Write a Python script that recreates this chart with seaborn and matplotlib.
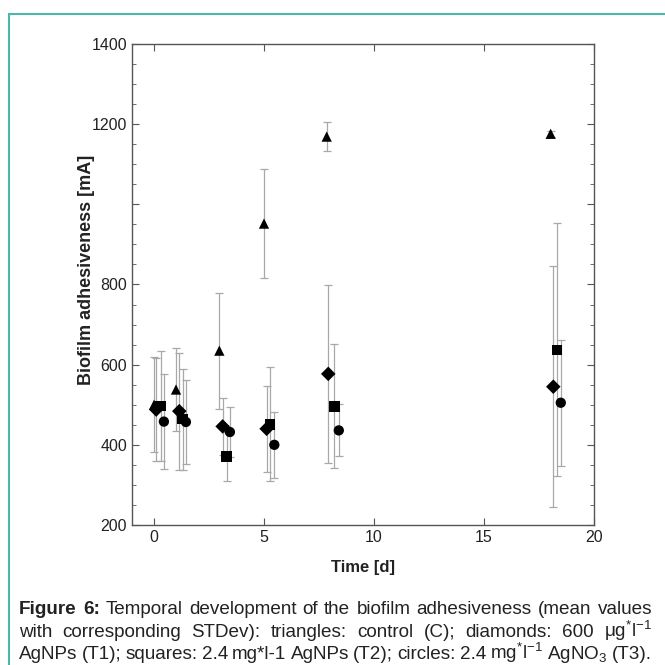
import matplotlib
matplotlib.use("Agg")
import numpy as np
import pandas as pd
import matplotlib.pyplot as plt
import seaborn as sns
from matplotlib.ticker import MultipleLocator, FixedLocator, FixedFormatter
from matplotlib.patches import Rectangle

# mean values with STDev
time_c = [0.0, 1.0, 2.97, 5.0, 7.85, 18.03]
mean_c = [500, 538, 635, 952, 1169, 1176]
sd_c = [118, 103, 145, 136, 37, 8]

time_t1 = [0.1, 1.15, 3.12, 5.12, 7.92, 18.15]
mean_t1 = [488, 484, 446, 440, 577, 545]
sd_t1 = [128, 146, 72, 107, 222, 300]

time_t2 = [0.3, 1.3, 3.3, 5.27, 8.2, 18.33]
mean_t2 = [497, 464, 371, 451, 496, 637]
sd_t2 = [138, 126, 60, 142, 155, 316]

time_t3 = [0.45, 1.45, 3.45, 5.47, 8.4, 18.49]
mean_t3 = [458, 457, 432, 400, 436, 505]
sd_t3 = [118, 105, 62, 83, 65, 157]

groups = ["C", "T1", "T2", "T3"]
group_markers = {"C": "^", "T1": "D", "T2": "s", "T3": "o"}
y_ticks = [200, 400, 600, 800, 1000, 1200, 1400]
y_tick_labels = ["200", "400", "600", "800", "", "1200", "1400"]
x_ticks = [0, 5, 10, 15, 20]

caption_lines = [
    ["Figure", "6:", "Temporal", "development", "of", "the", "biofilm", "adhesiveness",
     "(mean", "values"],
    ["with", "corresponding", "STDev):", "triangles:", "control", "(C);", "diamonds:",
     "600", r"μg$^{*}$l$^{-1}$"],
    ["AgNPs", "(T1);", "squares:", "2.4", "mg*l-1", "AgNPs", "(T2);", "circles:", "2.4",
     r"mg$^{*}$l$^{-1}$", r"AgNO$_3$", "(T3)."],
]

df = pd.DataFrame({
    "time": time_c + time_t1 + time_t2 + time_t3,
    "value": mean_c + mean_t1 + mean_t2 + mean_t3,
    "sd": sd_c + sd_t1 + sd_t2 + sd_t3,
    "group": sum([[g] * 6 for g in groups], []),
})

sns.set_style("ticks")
plt.rcParams["font.family"] = ["Liberation Sans", "DejaVu Sans"]
plt.rcParams["mathtext.fontset"] = "custom"
plt.rcParams["mathtext.rm"] = "Liberation Sans"
plt.rcParams["mathtext.it"] = "Liberation Sans:italic"
plt.rcParams["mathtext.bf"] = "Liberation Sans:bold"

W = 665
fig = plt.figure(figsize=(6.65, 6.65), dpi=100)
ax = fig.add_axes([132 / W, 1 - 525 / W, 462 / W, 481 / W])

# error bars first, markers on top
for g in groups:
    sub = df[df["group"] == g]
    ax.errorbar(sub["time"], sub["value"], yerr=sub["sd"], fmt="none",
                ecolor="#a8a8a8", elinewidth=0.9, capsize=3, capthick=0.9, zorder=2)

sns.scatterplot(data=df, x="time", y="value", style="group", markers=group_markers,
                color="black", edgecolor="none", s=55, legend=False, ax=ax, zorder=3)

ax.set_xlim(-1, 20)
ax.set_ylim(200, 1400)
ax.xaxis.set_major_locator(FixedLocator(x_ticks))
ax.yaxis.set_major_locator(FixedLocator(y_ticks))
ax.yaxis.set_major_formatter(FixedFormatter(y_tick_labels))
ax.yaxis.set_minor_locator(MultipleLocator(50))
ax.tick_params(which="both", direction="in", top=True, right=True,
               color="#555555", labelcolor="#222222", labelsize=11.5)
ax.tick_params(which="major", length=5, width=0.8)
ax.tick_params(which="minor", length=3, width=0.6)
for sp in ax.spines.values():
    sp.set_color("#555555")
    sp.set_linewidth(1)

ax.set_xlabel("Time [d]", fontsize=12, fontweight="bold", color="#222222")
ax.set_ylabel("Biofilm adhesiveness [mA]", fontsize=13, fontweight="bold", color="#222222")
ax.xaxis.set_label_coords(0.5, -0.072)
ax.yaxis.set_label_coords(-0.08, 0.53)

# teal frame of the figure box
fig.patches.append(Rectangle((9 / W, -0.2), 1.5, 1 - 14 / W + 0.2, transform=fig.transFigure,
                             fill=False, edgecolor="#4cb8a9", linewidth=1.5, clip_on=False))

# justified caption, font size fitted so the first line fills the width
renderer = fig.canvas.get_renderer()
x0, x1 = 19, 652
baselines = [614, 637, 659]
probe = fig.text(0, 0, "Figure 6: Temporal development of the biofilm adhesiveness (mean values",
                 fontsize=10)
probe_w = probe.get_window_extent(renderer).width
probe.remove()
cap_size = 10 * (x1 - x0) / probe_w * 0.985

for li, words in enumerate(caption_lines):
    texts = []
    for wi, w in enumerate(words):
        bold = li == 0 and wi < 2
        t = fig.text(0, 1 - baselines[li] / W, w, fontsize=cap_size, color="#222222",
                     fontweight="bold" if bold else "normal", va="baseline", ha="left")
        texts.append(t)
    widths = [t.get_window_extent(renderer).width for t in texts]
    gap = (x1 - x0 - sum(widths)) / (len(words) - 1)
    x = x0
    for t, w in zip(texts, widths):
        t.set_x(x / W)
        x += w + gap

fig.savefig("out.png", dpi=100, facecolor="white")
